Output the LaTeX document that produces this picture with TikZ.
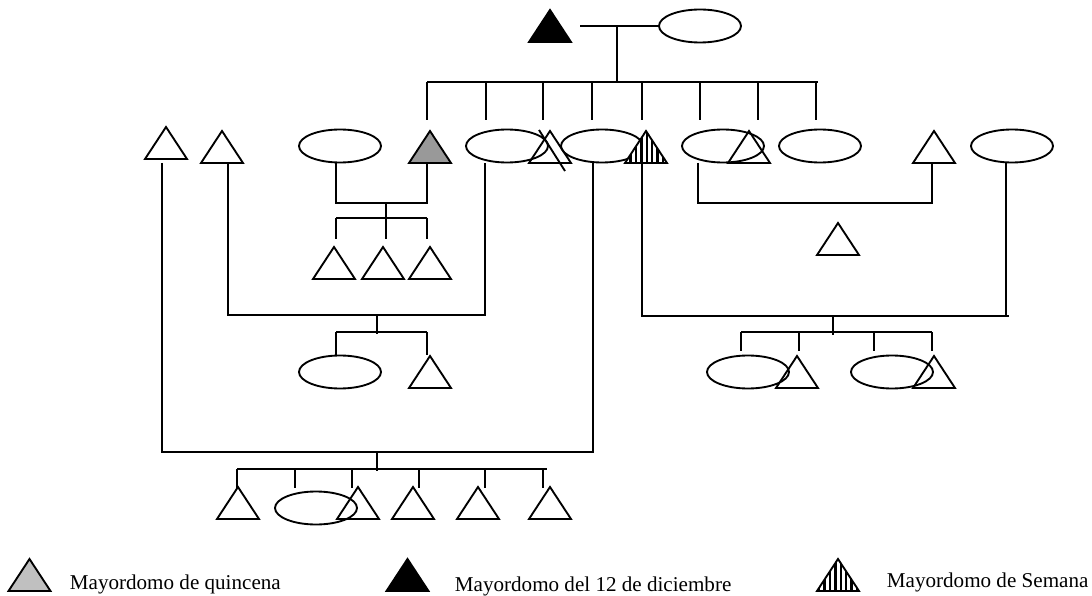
\documentclass[tikz,border=0pt]{standalone}
\usepackage{fontspec}
\setmainfont{Liberation Serif}
\usetikzlibrary{shapes.geometric,patterns.meta}

\definecolor{gris}{HTML}{999999}
\definecolor{grisclaro}{HTML}{C0C0C0}

\tikzset{
  varon/.style={draw,isosceles triangle,shape border rotate=90,
    isosceles triangle stretches,minimum width=1.26cm,minimum height=0.96cm,
    inner sep=0pt,outer sep=0pt,anchor=south},
  mujer/.style={draw,ellipse,minimum width=2.46cm,minimum height=0.99cm,
    inner sep=0pt,outer sep=0pt},
  rayas/.style={preaction={fill=white},
    pattern={Lines[angle=90,distance=4.6pt,line width=2pt]}},
  leyenda/.style={anchor=base west,inner sep=0pt,font=\fontsize{18}{21}\selectfont}
}

\begin{document}
\begin{tikzpicture}[x=0.03cm,y=-0.03cm,line width=1.6pt]
		\useasboundingbox (0,0) rectangle (1092,596);

		% pareja principal
		\node[varon,fill=black] (ego) at (550,42) {};
		\node[mujer] (esp) at (700,26) {};
		\draw (580,26) -- (esp.west);
		\draw (617,26) -- (617,82);
		\draw (427,82) -- (818,82);
		\foreach \x in {427,486,543,592,642,700,758,816}
			\draw (\x,82) -- (\x,120);

		% segunda fila
		\node[varon] (t1) at (166,159) {};
		\node[varon] (t2) at (222,163) {};
		\node[mujer] (e1) at (340,146) {};
		\node[varon,fill=gris] (h1) at (430,163) {};
		\node[mujer] (h2) at (507,146) {};
		\node[mujer] (h4) at (602,146) {};
		\node[varon] (h3) at (550,163) {};
		\draw (539,130) -- (565,171);
		\node[mujer] (h6) at (723,146) {};
		\node[varon,rayas] (h5) at (646,163) {};
		\node[varon] (h7) at (749,163) {};
		\node[mujer] (h8) at (820,146) {};
		\node[varon] (t3) at (934,163) {};
		\node[mujer] (e2) at (1012,146) {};

		% e1 y h1
		\draw (336,163) |- (427,203) -- (427,163);
		\draw (386,203) -- (386,239);
		\draw (336,218) -- (427,218);
		\foreach \x in {336,427}
			\draw (\x,218) -- (\x,239);
		\node[varon] (c1) at (334,279) {};
		\node[varon] (c2) at (383,279) {};
		\node[varon] (c3) at (430,279) {};

		% t2 y h2
		\draw (228,163) |- (485,315) -- (485,163);
		\draw (377,315) -- (377,334);
		\draw (336,332) -- (427,332);
		\foreach \x in {336,427}
			\draw (\x,332) -- (\x,355);
		\node[mujer] (d1) at (340,372) {};
		\node[varon] (d2) at (430,388) {};

		% t1 y h4
		\draw (162,163) |- (593,452) -- (593,163);
		\draw (377,452) -- (377,471);
		\draw (237,469) -- (547,469);
		\foreach \x in {237,295,352,419,485,543}
			\draw (\x,469) -- (\x,488);
		\node[varon] (g1) at (238,519) {};
		\node[mujer] (g2) at (316,508) {};
		\node[varon] (g3) at (358,519) {};
		\node[varon] (g4) at (413,519) {};
		\node[varon] (g5) at (478,519) {};
		\node[varon] (g6) at (550,519) {};

		% h6 y t3
		\draw (698,163) |- (932,203) -- (932,163);
		\node[varon] (k1) at (838,255) {};

		% h5 y e2
		\draw (642,163) |- (1009,316);
		\draw (1006,316) -- (1006,163);
		\draw (833,316) -- (833,335);
		\draw (741,332) -- (932,332);
		\foreach \x in {741,799,874,932}
			\draw (\x,332) -- (\x,351);
		\node[mujer] (m1) at (748,372) {};
		\node[varon] (m2) at (797,388) {};
		\node[mujer] (m3) at (892,372) {};
		\node[varon] (m4) at (934,388) {};

		% leyenda
		\node[varon,fill=grisclaro] (lq) at (29.5,591) {};
		\node[leyenda] (tq) at (69,589) {Mayordomo de quincena};
		\node[varon,fill=black] (ld) at (407.5,591) {};
		\node[leyenda] (td) at (454,591) {Mayordomo del 12 de diciembre};
		\node[varon,rayas] (ls) at (838,591) {};
		\node[leyenda] (ts) at (886,587) {Mayordomo de Semana};
	\end{tikzpicture}
\end{document}
